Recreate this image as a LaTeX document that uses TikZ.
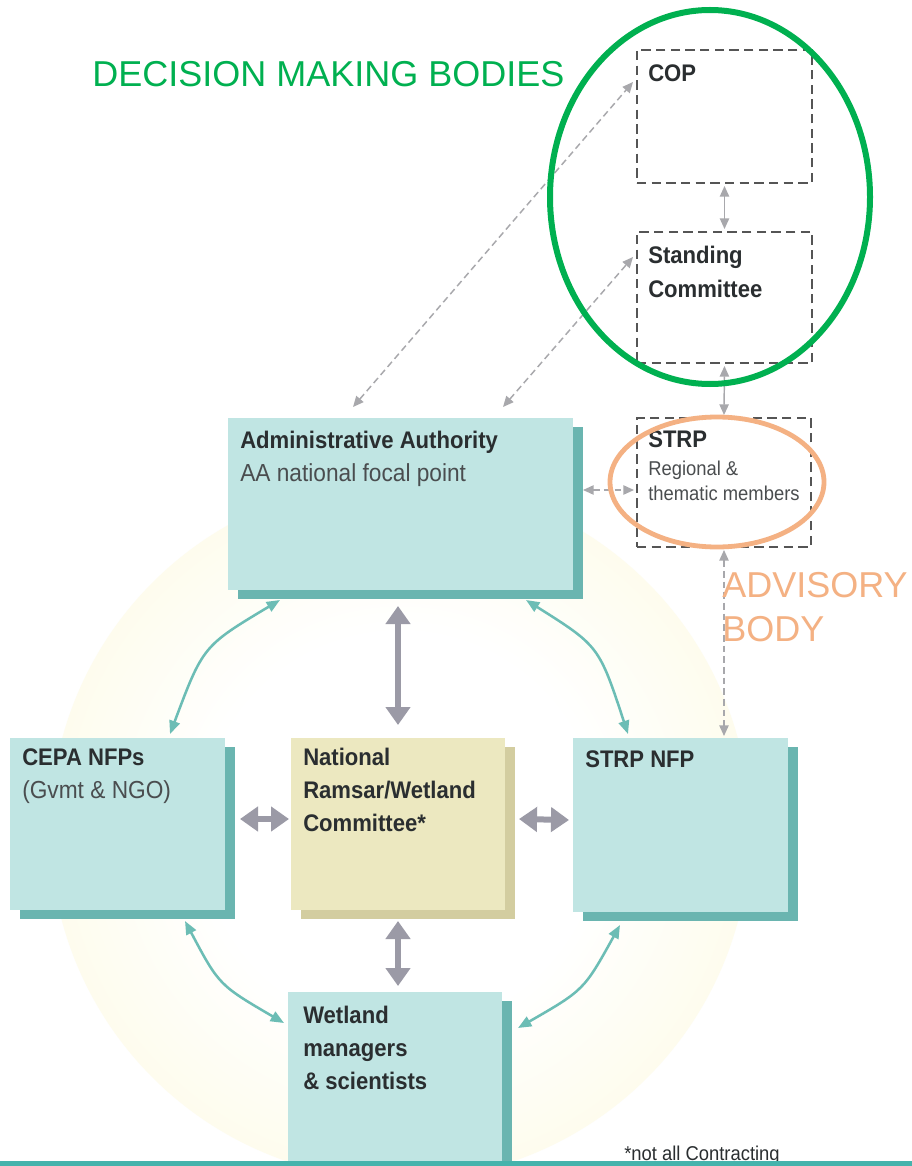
\documentclass[tikz,border=0pt]{standalone}
\usepackage{fontspec}
\setmainfont{Liberation Sans}
\newfontfamily\cf[FakeStretch=0.92]{Liberation Sans}
\usetikzlibrary{arrows.meta,shadows,calc}
\newdimen\upx \upx=0.75pt
\definecolor{boxcyan}{HTML}{C0E5E3}
\definecolor{boxshadow}{HTML}{6AB5B0}
\definecolor{boxyellow}{HTML}{ECE8C0}
\definecolor{yshadow}{HTML}{D3CDA0}
\definecolor{txtdark}{HTML}{2A2E30}
\definecolor{txtreg}{HTML}{4A4D4F}
\definecolor{dashgray}{HTML}{555555}
\definecolor{arrgray}{HTML}{A8A8AC}
\definecolor{biggray}{HTML}{9B9AA6}
\definecolor{tealarr}{HTML}{6CBDB5}
\definecolor{gbody}{HTML}{00B050}
\definecolor{obody}{HTML}{F4B183}
\definecolor{glow}{HTML}{FDFBE6}
\definecolor{barteal}{HTML}{45B3AC}
\pgfdeclareradialshading{glowring}{\pgfpoint{0bp}{0bp}}{color(0bp)=(white); color(14bp)=(white); color(30bp)=(glow); color(42bp)=(glow); color(50bp)=(white)}
\begin{document}
\begin{tikzpicture}[x=0.75pt,y=-0.75pt,
  tbox/.style={fill=boxcyan, draw=none, inner sep=0, outer sep=0, anchor=north west,
    drop shadow={shadow xshift=7.5pt, shadow yshift=-7pt, fill=boxshadow, opacity=1}},
  ybox/.style={fill=boxyellow, draw=none, inner sep=0, outer sep=0, anchor=north west,
    drop shadow={shadow xshift=7.5pt, shadow yshift=-7pt, fill=yshadow, opacity=1}},
  dbox/.style={draw=dashgray, line width=1.5pt, dash pattern=on 7pt off 4pt, fill=white,
    inner sep=0, outer sep=0, anchor=north west},
  lblb/.style={anchor=base west, inner sep=0, text=txtdark, font=\cf\bfseries\fontsize{18}{20}\selectfont},
  lblr/.style={anchor=base west, inner sep=0, text=txtreg, font=\cf\fontsize{18.5}{20}\selectfont},
  lbls/.style={anchor=base west, inner sep=0, text=txtreg, font=\cf\fontsize{15}{17}\selectfont},
  bigarrow/.style={draw=biggray, line width=4.5pt, {Triangle[width=18pt,length=13.5pt]}-{Triangle[width=18pt,length=13.5pt]}},
  tealarc/.style={draw=tealarr, line width=1.9pt, {Triangle[width=8pt,length=10pt]}-{Triangle[width=8pt,length=10pt]}},
  dasharrow/.style={draw=arrgray, line width=1.1pt, dash pattern=on 5pt off 3pt, {Triangle[width=7pt,length=8pt]}-{Triangle[width=7pt,length=8pt]}},
  smallarrow/.style={draw=arrgray, line width=1.1pt, {Triangle[width=7pt,length=8pt]}-{Triangle[width=7pt,length=8pt]}},
  annot/.style={anchor=base west, inner sep=0, font=\fontsize{27}{30}\selectfont}
]
\useasboundingbox (0,0) rectangle (912,1166);
\clip (0,0) rectangle (912,1166);
\fill[white] (0,0) rectangle (912,1166);

% background glow
\shade[shading=glowring] (400,830) circle [radius=350];

% shaded boxes
\node[tbox, minimum width=345*\upx, minimum height=172*\upx] (AA) at (228,418) {};
\node[tbox, minimum width=215*\upx, minimum height=172*\upx] (CEPA) at (10,738) {};
\node[ybox, minimum width=214*\upx, minimum height=172*\upx] (NAT) at (291,738) {};
\node[tbox, minimum width=215*\upx, minimum height=174*\upx] (SNFP) at (573,738) {};
\node[tbox, minimum width=214*\upx, minimum height=200*\upx] (WET) at (288,992) {};

% dashed boxes
\node[dbox, minimum width=175*\upx, minimum height=133*\upx] (COP) at (637,50) {};
\node[dbox, minimum width=175*\upx, minimum height=131*\upx] (SC) at (637,232) {};
\node[dbox, minimum width=174*\upx, minimum height=129*\upx] (STRP) at (637,418) {};

% texts
\node[lblb] (tAA1) at (240,448) {Administrative Authority};
\node[lblr] (tAA2) at (240,481) {AA national focal point};
\node[lblb] (tCE1) at (22,765) {CEPA NFPs};
\node[lblr] (tCE2) at (22,798) {(Gvmt \& NGO)};
\node[lblb] (tNA1) at (303,765) {National};
\node[lblb] (tNA2) at (303,798) {Ramsar/Wetland};
\node[lblb] (tNA3) at (303,831) {Committee*};
\node[lblb] (tSN1) at (585,767) {STRP NFP};
\node[lblb] (tWE1) at (303,1023) {Wetland};
\node[lblb] (tWE2) at (303,1056) {managers};
\node[lblb] (tWE3) at (303,1089) {\& scientists};
\node[lblb] (tCOP) at (648,82) {COP};
\node[lblb] (tSC1) at (648,263) {Standing};
\node[lblb] (tSC2) at (648,297) {Committee};
\node[lblb] (tST1) at (648,447) {STRP};
\node[lbls] (tST2) at (648,475) {Regional \&};
\node[lbls] (tST3) at (648,500) {thematic members};

% thick grey arrows
\draw[bigarrow] ($(AA.south west)+(170,16)$) -- ($(NAT.north)+(0,-13)$);
\draw[bigarrow] ($(NAT.south)+(0,11)$) -- ($(NAT.south |- WET.north)+(0,-6)$);
\draw[bigarrow] ($(CEPA.east)+(15,-5)$) -- ($(NAT.west)+(-2,-5)$);
\draw[bigarrow] ($(NAT.east)+(14,-5)$) -- ($(SNFP.west)+(-4,-5)$);

% teal curved arrows
\draw[tealarc] ($(AA.south west)+(52,10)$) .. controls (203,646) .. ($(CEPA.north west)+(160,-4)$);
\draw[tealarc] ($(AA.south east)+(-47,10)$) .. controls (599,646) .. ($(SNFP.north west)+(55,-4)$);
\draw[tealarc] ($(CEPA.south west)+(175,11)$) .. controls (219,985) .. ($(WET.north west)+(-4,31)$);
\draw[tealarc] ($(SNFP.south west)+(47,13)$) .. controls (584,990) .. ($(WET.north east)+(16,36)$);

% dashed grey arrows
\draw[dasharrow] ($(AA.north west)+(125,-11)$) -- ($(COP.north west)+(-4,32)$);
\draw[dasharrow] ($(AA.north west)+(275,-11)$) -- ($(SC.north west)+(-4,25)$);
\draw[dasharrow] ($(AA.north east)+(10,72)$) -- ($(STRP.north west)+(-3,72)$);
\draw[smallarrow] ($(COP.south)+(0,3)$) -- ($(SC.north)+(0,-3)$);
\draw[smallarrow] ($(SC.south)+(0,3)$) -- ($(STRP.north)+(0,-3)$);
\draw[dasharrow] ($(STRP.south)+(0,3)$) -- ($(STRP.south |- SNFP.north)+(0,-2)$);

% footnote and bottom bar
\node[anchor=base west, inner sep=0, text=txtdark, font=\cf\fontsize{15}{17}\selectfont] (foot) at (624,1160) {*not all Contracting};
\fill[barteal] (0,1161) rectangle (912,1166);

% highlight ellipses
\draw[gbody, line width=4.5pt] (710,197) ellipse [x radius=160, y radius=187];
\draw[obody, line width=3.6pt] (717,482) ellipse [x radius=107, y radius=65];

% annotations
\node[annot, text=gbody] (dmb) at (92,87) {DECISION MAKING BODIES};
\node[annot, text=obody] (adv1) at (722,597) {ADVISORY};
\node[annot, text=obody] (adv2) at (722,641) {BODY};
\end{tikzpicture}
\end{document}
